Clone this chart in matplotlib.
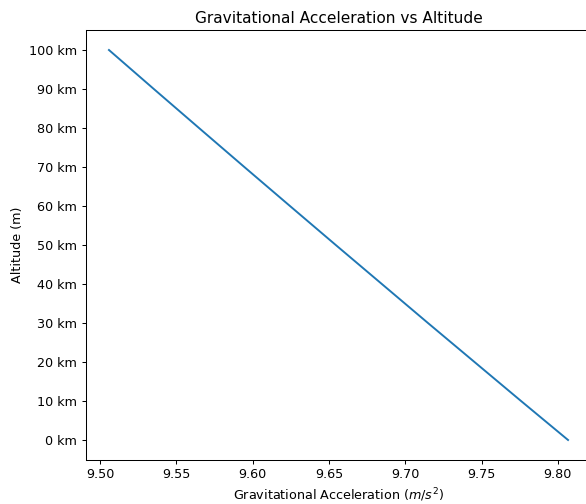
import numpy as np
import matplotlib
matplotlib.use('Agg')
import matplotlib.pyplot as plt
from matplotlib.ticker import FuncFormatter

## altitude (m) and gravitational acceleration (m/s^2)
altitude = [0, 10000, 20000, 30000, 40000, 50000, 60000, 70000, 80000, 90000, 100000]
g_accel = [9.8067, 9.7759, 9.7454, 9.7149, 9.6847, 9.6545, 9.6245, 9.5946, 9.5649, 9.5353, 9.5059]

DPI = 92
fig = plt.figure(figsize=(586.0 / DPI, 504.0 / DPI), dpi=DPI)
# the reference is cropped on the right, so the axes run past the figure edge
ax = fig.add_axes([86.0 / 586, 44.5 / 504, 505.0 / 586, 429.0 / 504])
ax.plot(g_accel, altitude)

ax.set_yticks(np.arange(0, 100001, 10000))
ax.yaxis.set_major_formatter(FuncFormatter(lambda v, pos: '%d km' % round(v / 1000)))

ax.set_title('Gravitational Acceleration vs Altitude')
ax.set_xlabel('Gravitational Acceleration ($m/s^2$)')
ax.set_ylabel('Altitude (m)')

plt.savefig('out.png', dpi=DPI)
